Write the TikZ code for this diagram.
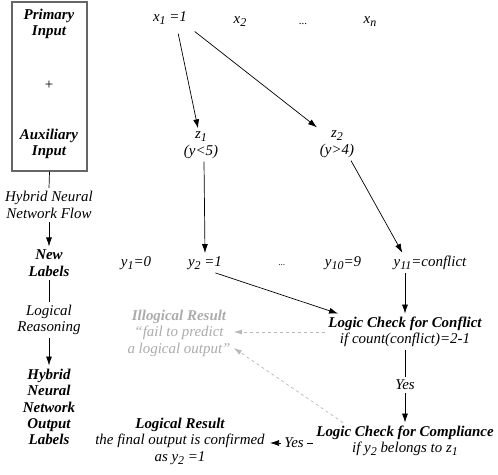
\documentclass[tikz,border=0pt]{standalone}
\usepackage{fontspec}
\setmainfont{Liberation Serif}
\usetikzlibrary{arrows.meta}
\newcommand{\sbs}[1]{\raisebox{-0.45ex}{\fontsize{12}{12}\selectfont #1}}

\begin{document}
\begin{tikzpicture}[x=1bp,y=-1bp,line width=0.7bp,
        txt/.style={font=\fontsize{15}{16.5}\selectfont\itshape,align=center,inner sep=3bp},
        hd/.style={font=\fontsize{15}{16.5}\selectfont\bfseries\itshape,align=center,inner sep=3bp},
        faded/.style={text=black!33},
        arr/.style={-{Latex[length=9bp,width=6bp]}},
        grayarr/.style={-{Latex[length=8bp,width=5bp]},dashed,draw=black!28}]
        \useasboundingbox (0,0) rectangle (498,475);
        % left column
        \node[draw=black!60,line width=1.4bp,minimum width=75bp,minimum height=169bp] (inbox) at (49.5,86.5) {};
        \node[hd] (prim) at (49,24) {Primary\\Input};
        \node[txt,font=\fontsize{15}{16}\selectfont] (plus) at (49,85) {+};
        \node[hd] (aux) at (49,144) {Auxiliary\\Input};
        \node[txt] (flow) at (49,205) {Hybrid Neural\\Network Flow};
        \node[hd] (newl) at (49,263) {New\\Labels};
        \node[txt] (reas) at (49,320) {Logical\\Reasoning};
        \node[hd] (outl) at (49,407) {Hybrid\\Neural\\Network\\Output\\Labels};
        \draw (inbox.south) -- (flow.north);
        \draw[arr] (flow) -- (newl);
        \draw (newl) -- (reas);
        \draw[arr] (reas) -- (outl);
        % inputs
        \node[txt] (x1) at (170,18) {x\sbs{1} =1};
        \node[txt] (x2) at (240,22) {x\sbs{2}};
        \node[txt,font=\fontsize{11}{12}\selectfont] (xdots) at (303,24) {...};
        \node[txt] (xn) at (370,22) {x\sbs{n}};
        \node[txt] (z1) at (201,145) {z\sbs{1}\\(y<5)};
        \node[txt] (z2) at (337,144) {z\sbs{2}\\(y>4)};
        \draw[arr,shorten <=6bp] ([xshift=7bp]x1.south) -- ([xshift=-3bp]z1.north);
        \draw[arr,shorten <=6bp] ([xshift=20bp]x1.south) -- ([xshift=-20bp]z2.north);
        % labels
        \node[txt] (y1) at (136,263) {y\sbs{1}=0};
        \node[txt] (y2) at (205,263) {y\sbs{2} =1};
        \node[txt,font=\fontsize{9}{11}\selectfont\itshape] (ydots) at (282,265) {...};
        \node[txt] (y10) at (343,263) {y\sbs{10}=9};
        \node[txt] (y11) at (430,263) {y\sbs{11}=conflict};
        \draw[arr] ([xshift=3bp]z1.south) -- (y2.north);
        \draw[arr] ([xshift=14bp]z2.south) -- ([xshift=12bp]y11.north west);
        % checks
        \node[txt] (conf) at (405,332) {\textbf{Logic Check for Conflict}\\if count(conflict)=2-1};
        \node[txt] (yes1) at (405,385) {Yes};
        \node[txt] (comp) at (405,441) {\textbf{Logic Check for Compliance}\\if y\sbs{2} belongs to z\sbs{1}};
        \node[txt] (yes2) at (294,443) {Yes};
        \node[txt] (res) at (180,441) {\textbf{Logical Result}\\the final output is confirmed\\as y\sbs{2} =1};
        \node[txt,faded] (illo) at (179,333) {\textbf{Illogical Result}\\``fail to predict\\a logical output''};
        \draw[arr] ([xshift=-10bp]y2.south east) -- ([xshift=13bp]conf.north west);
        \draw[arr] (conf.north |- y11.south) -- (conf.north);
        \draw (conf) -- (yes1);
        \draw[arr] (yes1) -- (comp);
        \draw (comp.west |- yes2) -- (yes2);
        \draw[arr,shorten >=2bp] (yes2) -- (res.east |- yes2);
        \draw[grayarr] (conf.west) -- (illo.east |- conf.west);
        \draw[grayarr] ([xshift=30bp]comp.north west) -- ([yshift=-15bp]illo.east);
\end{tikzpicture}
\end{document}
